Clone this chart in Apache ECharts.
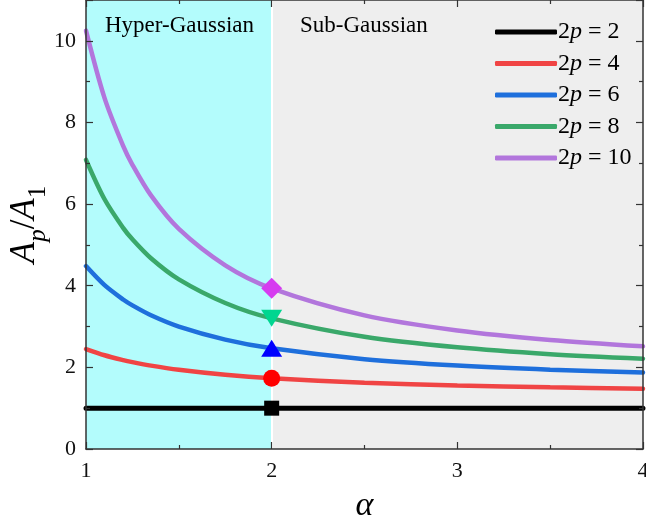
<!DOCTYPE html>
<html>
<head>
<meta charset="utf-8">
<script src="https://cdn.jsdelivr.net/npm/echarts@6/dist/echarts.min.js"></script>
<style>
  html, body { margin: 0; padding: 0; background: #fff; }
  #chart { width: 646px; height: 522px; }
</style>
</head>
<body>
<div id="chart"></div>
<script>
// alpha values
const alpha = [1, 1.1, 1.2, 1.25, 1.35, 1.5, 1.75, 2, 2.5, 3, 3.5, 4];
const p2 = [1, 1, 1, 1, 1, 1, 1, 1, 1, 1, 1, 1];
const p4 = [2.449, 2.297, 2.178, 2.128, 2.042, 1.940, 1.817, 1.732, 1.623, 1.555, 1.510, 1.479];
const p6 = [4.481, 4.013, 3.662, 3.518, 3.276, 2.999, 2.680, 2.466, 2.201, 2.044, 1.942, 1.873];
const p8 = [7.085, 6.119, 5.418, 5.137, 4.673, 4.155, 3.577, 3.201, 2.749, 2.490, 2.324, 2.212];
const p10 = [10.25, 8.596, 7.425, 6.963, 6.212, 5.392, 4.500, 3.936, 3.274, 2.904, 2.671, 2.515];
// markers at alpha = 2
const markAlpha = 2;
const markVals = [1, 1.732, 2.466, 3.201, 3.936];
const legendNames = ["2p = 2", "2p = 4", "2p = 6", "2p = 8", "2p = 10"];

const serif = "Liberation Serif";
const lineColors = ["#000000", "#f04444", "#1e6fdc", "#3aa86a", "#b276dc"];
const markColors = ["#000000", "#ff0000", "#0000ff", "#00d690", "#d63cf0"];
const markSymbols = ["rect", "circle", "triangle", "path://M0,0 L2,0 L1,1.7 Z", "diamond"];
const markSizes = [[15, 15], [17, 17], [21, 17], [21, 17], [21, 21]];

const chart = echarts.init(document.getElementById("chart"));

const pairs = (ys) => alpha.map((a, i) => [a, ys[i]]);
const curves = [p2, p4, p6, p8, p10];

const lineSeries = curves.map((ys, k) => ({
  name: legendNames[k],
  type: "line",
  data: pairs(ys),
  smooth: 0.3,
  showSymbol: false,
  z: 3,
  lineStyle: { color: lineColors[k], width: k === 0 ? 5 : 4.5, cap: "round" },
  itemStyle: { color: lineColors[k] },
}));

const axisCommon = {
  axisLine: { show: true, onZero: false, lineStyle: { color: "#333", width: 1.5 } },
  axisTick: { show: true, inside: true, length: 7, lineStyle: { color: "#333", width: 1.2 } },
  minorTick: { show: true, splitNumber: 2, length: 4, lineStyle: { color: "#333", width: 1.2 } },
  splitLine: { show: false },
  z: 10,
};

chart.setOption({
  animation: false,
  backgroundColor: "#fff",
  grid: { left: 86, right: 3, top: 0, bottom: 73, show: false, outerBoundsMode: "none", containLabel: false },
  legend: {
    data: legendNames.map((n) => ({ name: n, icon: "roundRect" })),
    orient: "vertical",
    left: 490,
    top: 14,
    itemWidth: 62,
    itemHeight: 5,
    itemGap: 5.5,
    formatter: (n) => "{up|2}{it|p}{up| = " + n.split("= ")[1] + "}",
    textStyle: {
      fontFamily: serif,
      fontSize: 24,
      lineHeight: 26,
      color: "#000",
      padding: [0, 0, 0, -4],
      rich: {
        up: { fontFamily: serif, fontSize: 24, color: "#000", lineHeight: 26 },
        it: { fontFamily: serif, fontSize: 24, fontStyle: "italic", color: "#000", lineHeight: 26 },
      },
    },
  },
  xAxis: [
    Object.assign({}, axisCommon, {
      type: "value",
      min: 1,
      max: 4,
      interval: 1,
      position: "bottom",
      name: "α",
      nameLocation: "middle",
      nameGap: 40,
      nameMoveOverlap: false,
      nameTextStyle: { fontFamily: serif, fontSize: 34, fontStyle: "italic", color: "#000" },
      axisLabel: { fontFamily: serif, fontSize: 22, color: "#111", margin: 11 },
    }),
    Object.assign({}, axisCommon, {
      type: "value",
      min: 1,
      max: 4,
      interval: 1,
      position: "top",
      axisLabel: { show: false },
    }),
  ],
  yAxis: [
    Object.assign({}, axisCommon, {
      type: "value",
      min: 0,
      max: 11,
      interval: 2,
      position: "left",
      name: "{i|A}{s|p}{n|/}{i|A}{t|1}",
      nameLocation: "middle",
      nameGap: 44,
      nameMoveOverlap: false,
      nameTextStyle: {
        rich: {
          i: { fontFamily: serif, fontSize: 35, fontStyle: "italic", color: "#000", verticalAlign: "bottom" },
          n: { fontFamily: serif, fontSize: 35, color: "#000", verticalAlign: "bottom" },
          s: { fontFamily: serif, fontSize: 25, fontStyle: "italic", color: "#000", verticalAlign: "bottom", padding: [0, 0, -9, 0] },
          t: { fontFamily: serif, fontSize: 25, color: "#000", verticalAlign: "bottom", padding: [0, 0, -9, 0] },
        },
      },
      axisLabel: { fontFamily: serif, fontSize: 22, color: "#111", margin: 10, showMaxLabel: false },
    }),
    Object.assign({}, axisCommon, {
      type: "value",
      min: 0,
      max: 11,
      interval: 2,
      position: "right",
      axisLabel: { show: false },
    }),
  ],
  graphic: [
    {
      type: "text",
      left: 105,
      top: 14,
      style: { text: "Hyper-Gaussian", fontFamily: serif, fontSize: 23, fill: "#000" },
      z: 20,
    },
    {
      type: "text",
      left: 300,
      top: 14,
      style: { text: "Sub-Gaussian", fontFamily: serif, fontSize: 23, fill: "#000" },
      z: 20,
    },
  ],
  series: [
    {
      name: "bg",
      type: "line",
      data: [],
      z: 1,
      silent: true,
      markArea: {
        silent: true,
        data: [
          [{ xAxis: 1, itemStyle: { color: "#b3fcfc" } }, { xAxis: 2 }],
          [{ xAxis: 2, itemStyle: { color: "#eeeeee" } }, { xAxis: 4 }],
        ],
      },
      markLine: {
        silent: true,
        symbol: "none",
        label: { show: false },
        lineStyle: { color: "#ffffff", width: 2, type: "solid" },
        data: [{ xAxis: 2 }],
      },
    },
    ...lineSeries,
    {
      name: "markers",
      type: "scatter",
      z: 5,
      data: markVals.map((v, k) => ({
        value: [markAlpha, v],
        symbol: markSymbols[k],
        symbolSize: markSizes[k],
        itemStyle: { color: markColors[k], opacity: 1 },
      })),
    },
  ],
});
</script>
</body>
</html>
